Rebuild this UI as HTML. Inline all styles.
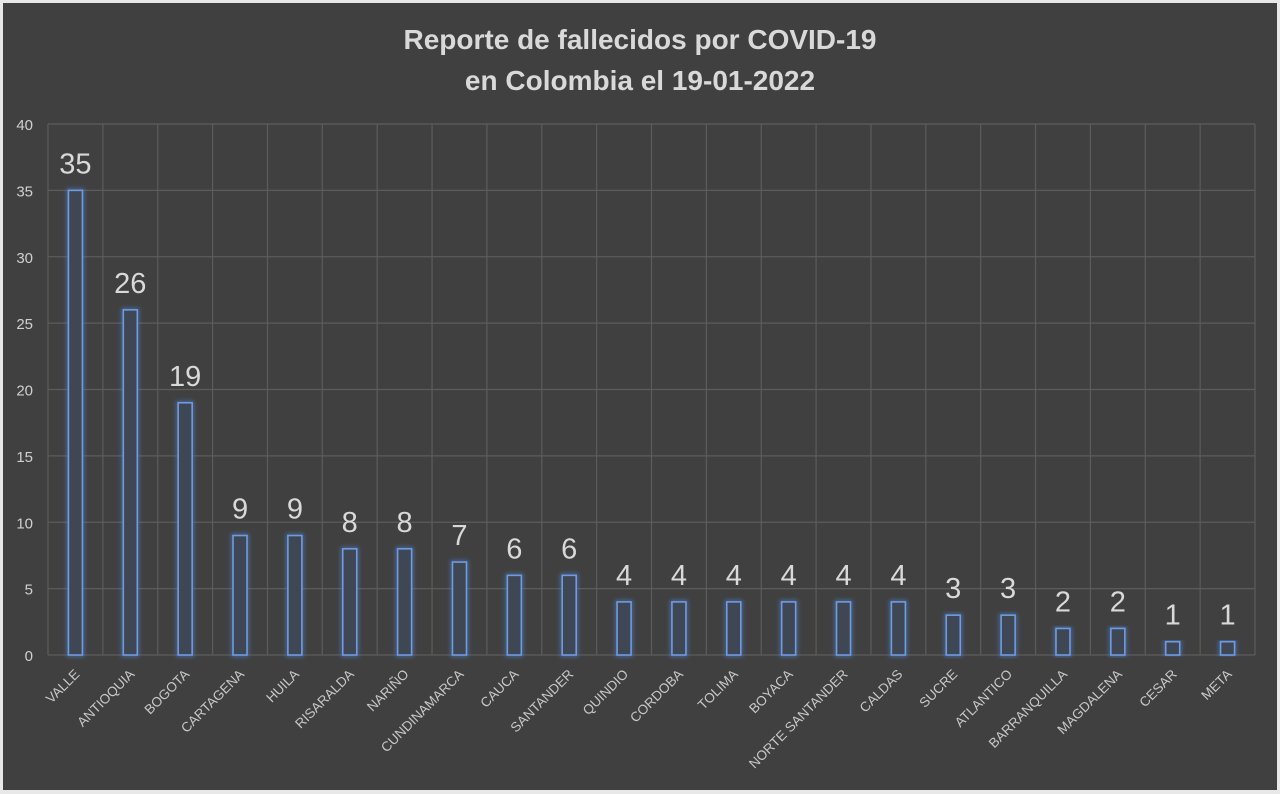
<!DOCTYPE html>
<html><head><meta charset="utf-8"><style>
html,body{margin:0;padding:0;background:#fff}
svg{display:block}
</style></head><body>
<svg width="1280" height="794" xmlns="http://www.w3.org/2000/svg" font-family="Liberation Sans, sans-serif">
<defs><filter id="g" x="-50%" y="-10%" width="200%" height="120%"><feGaussianBlur stdDeviation="2"/></filter></defs>
<rect x="0" y="0" width="1280" height="794" fill="#e8e8e8"/>
<rect x="3" y="3" width="1274" height="787" fill="#404040"/>
<text x="640" y="49" text-anchor="middle" font-size="28" font-weight="bold" fill="#d9d9d9">Reporte de fallecidos por COVID-19</text>
<text x="640" y="90" text-anchor="middle" font-size="28" font-weight="bold" fill="#d9d9d9">en Colombia el 19-01-2022</text>
<g id="grid" stroke="#5c5c5c" stroke-width="1.2"></g>
<g id="bars"></g>
<g id="labels"></g>
</svg>
<script>
var ns="http://www.w3.org/2000/svg";
function el(t,a,p,txt){var e=document.createElementNS(ns,t);for(var k in a)e.setAttribute(k,a[k]);if(txt!==undefined)e.textContent=txt;document.getElementById(p).appendChild(e);return e;}
var L=48,R=1255,T=124,B=655,n=22,w=(R-L)/n,u=(B-T)/40;
for(var i=0;i<=8;i++){var y=B-i*5*u;el('line',{x1:L,x2:R,y1:y,y2:y},'grid');el('text',{x:33,y:y+6,'text-anchor':'end','font-size':15,fill:'#d0d0d0'},'labels',String(i*5));}
for(var i=0;i<=n;i++){var x=L+i*w;el('line',{x1:x,x2:x,y1:T,y2:B},'grid');}
var d=[["VALLE",35],["ANTIOQUIA",26],["BOGOTA",19],["CARTAGENA",9],["HUILA",9],["RISARALDA",8],["NARIÑO",8],["CUNDINAMARCA",7],["CAUCA",6],["SANTANDER",6],["QUINDIO",4],["CORDOBA",4],["TOLIMA",4],["BOYACA",4],["NORTE SANTANDER",4],["CALDAS",4],["SUCRE",3],["ATLANTICO",3],["BARRANQUILLA",2],["MAGDALENA",2],["CESAR",1],["META",1]];
d.forEach(function(r,i){var c=L+(i+0.5)*w,h=r[1]*u,y=B-h;
el('rect',{x:c-7,y:y,width:14,height:h,fill:'none',stroke:'#4f81d0','stroke-width':4,opacity:0.6,filter:'url(#g)'},'bars');
el('rect',{x:c-7,y:y,width:14,height:h,fill:'#3f4654',stroke:'#6f9be0','stroke-width':1.6},'bars');
el('text',{x:c,y:y-17,'text-anchor':'middle','font-size':29,fill:'#d9d9d9'},'labels',String(r[1]));
el('text',{x:0,y:0,'text-anchor':'end','font-size':13.5,fill:'#c8c8c8',transform:'translate('+(c+5)+',675) rotate(-45)'},'labels',r[0]);
});
</script>
</body></html>
